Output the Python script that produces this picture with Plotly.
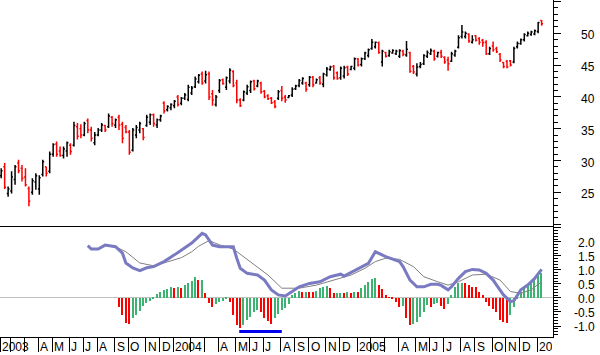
import pandas as pd
import plotly.graph_objects as go

# ---------------- weekly price bars (Jan 2003 - Jan 2006) ----------------
OPEN = [
    27.6, 29.0, 24.8, 25.2, 27.0, 29.6, 28.8, 27.4, 25.6, 25.0,
    26.6, 25.5, 27.8, 29.0, 28.3, 31.0, 32.6, 31.5, 30.8, 31.5,
    32.4, 32.4, 35.3, 35.0, 34.0, 36.3, 34.8, 32.8, 34.0, 34.8,
    35.5, 35.3, 36.8, 35.6, 36.8, 35.7, 35.2, 34.5, 31.6, 34.0,
    34.8, 35.0, 35.5, 36.0, 37.2, 35.6, 36.4, 39.0, 38.0, 38.3,
    38.6, 40.0, 39.0, 39.8, 39.6, 40.6, 41.6, 42.4,
    43.6, 42.5, 43.6, 40.5, 38.8, 41.0, 42.7, 41.5, 42.5, 44.0,
    42.2, 39.5, 39.5, 40.6, 41.0, 42.5, 41.7, 42.2, 40.9, 40.2,
    39.8, 39.2, 39.8, 41.0, 40.0, 39.9, 40.3, 41.3, 41.8, 42.2,
    42.2, 41.9, 43.1, 42.2, 43.0, 42.0, 43.5, 44.3, 44.8, 43.8,
    43.0, 43.3, 44.7, 44.3, 44.5, 46.0, 45.1, 46.0, 46.5, 47.6,
    47.9, 48.5, 45.5, 47.0, 46.5, 46.9, 46.8, 46.4,
    47.2, 46.6, 47.0, 44.8, 43.6, 44.8, 45.2, 46.4, 46.8, 47.2,
    46.4, 47.0, 46.2, 45.8, 45.6, 46.6, 47.8, 49.5, 49.5, 49.9,
    48.6, 49.6, 49.2, 48.9, 48.6, 46.8, 48.0, 47.6, 46.7, 45.4,
    45.6, 45.7, 45.5, 47.9, 48.4, 49.0, 49.6, 49.8, 49.9, 50.3,
    52.0,
]
HIGH = [
    28.8, 29.6, 25.9, 28.3, 29.3, 30.1, 29.3, 28.8, 25.9, 27.2,
    28.0, 27.7, 30.1, 29.0, 31.4, 32.7, 33.0, 32.2, 32.2, 33.0,
    32.7, 36.1, 35.9, 35.7, 36.1, 36.6, 35.3, 34.5, 35.1, 35.9,
    35.6, 37.4, 37.0, 36.6, 37.2, 36.1, 35.6, 34.8, 35.1, 35.6,
    36.1, 35.1, 37.2, 37.4, 37.4, 36.6, 37.2, 39.3, 38.7, 39.0,
    39.5, 40.3, 40.0, 40.6, 41.9, 41.7, 43.2, 43.6,
    44.0, 44.1, 44.0, 41.1, 40.3, 42.8, 42.9, 43.2, 44.5, 44.2,
    42.7, 39.8, 41.0, 41.9, 42.6, 42.7, 42.7, 42.4, 41.1, 40.4,
    40.0, 39.5, 41.1, 41.7, 40.3, 40.3, 41.5, 41.9, 42.8, 43.1,
    42.4, 43.3, 43.3, 42.9, 43.3, 43.8, 44.7, 44.9, 45.0, 44.0,
    44.8, 44.9, 44.9, 44.9, 46.2, 46.1, 46.2, 47.1, 47.6, 49.1,
    48.7, 48.7, 47.4, 47.1, 47.4, 47.5, 47.4, 47.5,
    47.4, 48.8, 47.1, 45.0, 45.3, 45.5, 46.7, 47.3, 47.6, 47.4,
    47.1, 47.4, 46.4, 46.3, 47.1, 47.4, 49.7, 51.3, 50.3, 50.0,
    49.7, 49.7, 49.4, 49.1, 48.9, 47.9, 48.7, 47.9, 46.9, 45.5,
    45.8, 45.8, 47.9, 48.7, 49.2, 50.0, 50.3, 50.4, 50.6, 51.8,
    52.1,
]
LOW = [
    27.2, 25.5, 24.3, 24.8, 26.2, 28.0, 26.7, 25.9, 22.8, 24.6,
    25.4, 24.6, 27.5, 27.5, 28.0, 30.6, 30.6, 30.6, 30.3, 30.6,
    30.9, 32.2, 33.3, 33.5, 33.8, 34.3, 33.0, 32.4, 33.8, 34.5,
    34.5, 35.1, 35.3, 35.1, 34.8, 32.7, 34.3, 30.9, 31.4, 33.5,
    34.3, 33.2, 35.3, 35.6, 35.3, 35.1, 36.1, 37.4, 37.7, 37.9,
    38.2, 38.5, 38.7, 39.5, 39.3, 40.3, 41.4, 42.1,
    41.9, 42.1, 39.5, 38.6, 38.5, 40.6, 41.9, 41.1, 42.1, 41.5,
    39.0, 38.4, 39.3, 40.3, 40.6, 41.0, 41.5, 40.5, 39.8, 39.5,
    38.9, 38.2, 39.5, 39.3, 39.1, 39.8, 40.0, 41.1, 41.5, 41.9,
    40.8, 41.6, 41.5, 42.1, 41.9, 41.5, 43.2, 44.1, 42.7, 42.7,
    42.7, 42.9, 43.3, 44.2, 44.2, 44.8, 44.8, 45.8, 46.2, 47.4,
    47.6, 46.8, 44.8, 46.2, 46.3, 46.8, 46.6, 46.1,
    46.4, 46.3, 43.8, 43.6, 43.2, 44.5, 45.0, 46.1, 46.6, 45.7,
    46.2, 46.1, 45.2, 44.1, 45.5, 46.3, 47.6, 49.2, 49.2, 48.5,
    48.4, 48.7, 48.2, 47.9, 46.6, 46.6, 47.1, 46.9, 45.5, 44.5,
    44.5, 44.8, 45.3, 47.6, 48.2, 48.7, 49.5, 49.6, 49.7, 50.0,
    51.2,
]
CLOSE = [
    28.4, 25.8, 25.5, 27.4, 29.0, 28.4, 27.2, 26.2, 23.6, 26.8,
    27.6, 27.3, 29.8, 28.0, 31.0, 32.5, 31.0, 30.8, 31.8, 32.8,
    31.4, 35.5, 33.8, 34.0, 35.8, 34.8, 33.5, 34.0, 34.8, 35.6,
    34.8, 37.0, 35.8, 36.4, 35.6, 33.5, 34.5, 31.3, 34.8, 35.2,
    35.8, 33.6, 36.8, 37.2, 35.8, 36.4, 37.0, 37.8, 38.5, 38.8,
    39.3, 38.8, 39.8, 40.3, 41.5, 41.4, 42.8, 43.4,
    42.2, 43.5, 40.0, 39.5, 40.0, 42.6, 42.1, 43.0, 44.2, 41.8,
    39.5, 38.6, 40.8, 41.6, 42.4, 41.3, 42.5, 40.8, 40.0, 39.7,
    39.1, 38.5, 40.8, 39.8, 39.5, 40.2, 41.2, 41.7, 42.6, 42.9,
    41.2, 43.1, 41.9, 42.7, 42.2, 43.6, 44.4, 44.7, 43.0, 42.9,
    44.5, 44.6, 43.6, 44.8, 46.0, 45.0, 46.0, 46.9, 47.4, 48.6,
    48.6, 47.0, 47.2, 46.4, 47.1, 47.3, 47.2, 47.3,
    46.7, 47.5, 44.0, 43.9, 44.7, 45.1, 46.5, 47.0, 47.3, 46.0,
    47.0, 46.4, 45.5, 45.2, 46.8, 47.2, 49.3, 50.2, 50.0, 48.8,
    49.0, 48.9, 48.6, 48.5, 46.8, 47.6, 47.4, 47.1, 45.8, 44.8,
    44.7, 45.0, 47.6, 48.4, 49.0, 49.8, 50.0, 50.2, 50.4, 51.7,
    51.5,
]
FIRST_WEEK = "2003-01-17"

# ---------------- indicator panel ----------------
MACD_WEEK = [25, 26, 28, 30, 33, 35, 36, 38, 40, 42, 44, 47, 50, 52, 55, 57, 58, 59, 61, 63,
             67, 68, 69, 71, 74, 76, 78, 80, 82, 84, 86, 89, 92, 95, 98, 99, 103, 106, 108, 111,
             115, 116, 118, 120, 122, 124, 126, 127, 129, 130, 132, 134, 136, 138, 140, 142, 143,
             145, 147, 148, 150, 152, 154, 156]
MACD_VAL = [1.87, 1.75, 1.75, 1.89, 1.83, 1.60, 1.25, 1.07, 0.98, 1.08, 1.12, 1.30, 1.54, 1.71,
            1.96, 2.19, 2.31, 2.25, 1.89, 1.83, 1.83, 1.42, 1.06, 0.88, 0.82, 0.64, 0.29, 0.11,
            0.07, 0.23, 0.40, 0.52, 0.58, 0.76, 0.85, 0.78, 1.06, 1.24, 1.65, 1.48, 1.30, 1.12,
            0.64, 0.40, 0.40, 0.49, 0.49, 0.45, 0.29, 0.40, 0.70, 0.94, 1.02, 1.00, 0.88, 0.64,
            0.46, 0.11, -0.13, -0.10, 0.29, 0.46, 0.70, 1.02]
SIGNAL_WEEK = [33, 36, 40, 44, 48, 52, 55, 57, 60, 63, 67, 72, 77, 81, 86, 91, 96, 101, 105, 108,
               111, 115, 119, 122, 126, 129, 132, 136, 140, 144, 147, 150, 153, 156]
SIGNAL_VAL = [1.83, 1.65, 1.25, 1.15, 1.29, 1.44, 1.65, 1.85, 2.05, 1.90, 1.75, 1.30, 0.82, 0.35,
              0.35, 0.46, 0.64, 0.82, 1.06, 1.30, 1.42, 1.38, 1.12, 0.76, 0.58, 0.46, 0.58, 0.82,
              0.85, 0.64, 0.23, 0.17, 0.29, 0.58]
HIST_FIRST_WEEK = 34
HIST = [
    -0.31, -0.61, -0.88, -0.93, -0.73, -0.60, -0.45, -0.30, -0.18, -0.10,
    -0.04, 0.15, 0.20, 0.27, 0.33, 0.40, 0.35, 0.40, 0.37, 0.45,
    0.52, 0.62, 0.75, 0.64, 0.66, 0.17, -0.19, -0.31, -0.22, -0.15,
    -0.10, -0.04, -0.15, -0.61, -0.96, -1.06, -0.96, -0.79, -0.67, -0.51,
    -0.43, -0.51, -0.70, -0.82, -0.92, -0.73, -0.58, -0.43, -0.35, -0.23,
    0.12, 0.17, 0.25, 0.20, 0.22, 0.21, 0.20, 0.24, 0.35, 0.40,
    0.42, 0.36, 0.17, 0.18, 0.19, 0.18, 0.20, 0.17, 0.21, 0.20,
    0.35, 0.46, 0.58, 0.68, 0.71, 0.45, 0.33, 0.10, 0.03, -0.03,
    -0.15, -0.31, -0.30, -0.70, -0.96, -0.94, -0.85, -0.67, -0.49, -0.25,
    -0.31, -0.20, -0.18, -0.27, -0.38, -0.22, 0.10, 0.40, 0.52, 0.55,
    0.53, 0.46, 0.40, 0.38, 0.21, 0.10, -0.15, -0.27, -0.38, -0.51,
    -0.79, -0.87, -0.90, -0.60, -0.32, -0.05, 0.20, 0.38, 0.50, 0.58,
    0.68, 0.78, 0.88,
]
HIGHLIGHT_DATES = ["2004-05-12", "2004-08-06"]
HIGHLIGHT_LEVEL = -1.2

# ---------------- labels ----------------
PRICE_LABELS = [50, 45, 40, 35, 30, 25]
IND_LABELS = [2.0, 1.5, 1.0, 0.5, 0.0, -0.5, -1.0]
MONTH_LABELS = ["2003", "", "", "A", "M", "J", "J", "A", "S", "O", "N", "D",
                "2004", "", "", "A", "M", "J", "J", "A", "S", "O", "N", "D",
                "2005", "", "", "A", "M", "J", "J", "A", "S", "O", "N", "D",
                "2006"]

dates = pd.date_range(FIRST_WEEK, periods=len(CLOSE), freq="7D")
macd_x = [dates[i] for i in MACD_WEEK]
sig_x = [dates[i] for i in SIGNAL_WEEK]
hist_x = [dates[HIST_FIRST_WEEK + k] for k in range(len(HIST))]
hist_col = []
prev = 0.0
for v in HIST:
    hist_col.append("#3cb371" if v >= prev else "#ff0000")
    prev = v

# month separators: first weekly bar in each month
seps = []
seen = set()
for d in dates:
    key = (d.year, d.month)
    if key not in seen:
        seen.add(key)
        seps.append(d - pd.Timedelta(days=2))

FONT = "Liberation Sans, Arial, sans-serif"
XR = ["2003-01-14 14:00", "2006-02-05"]

fig = go.Figure()
fig.add_trace(go.Ohlc(
    x=dates, open=OPEN, high=HIGH, low=LOW, close=CLOSE,
    increasing=dict(line=dict(color="#000000", width=1.5)),
    decreasing=dict(line=dict(color="#ff0000", width=1.5)),
    tickwidth=0.4, xaxis="x", yaxis="y", hoverinfo="skip"))
fig.add_trace(go.Bar(
    x=hist_x, y=HIST, marker=dict(color=hist_col, line=dict(width=0)),
    width=2.9 * 86400000, xaxis="x2", yaxis="y2", hoverinfo="skip"))
fig.add_trace(go.Scatter(
    x=sig_x, y=SIGNAL_VAL, mode="lines", line=dict(color="#808080", width=1),
    xaxis="x2", yaxis="y2", hoverinfo="skip"))
fig.add_trace(go.Scatter(
    x=macd_x, y=MACD_VAL, mode="lines", line=dict(color="#7a7ac2", width=3),
    xaxis="x2", yaxis="y2", hoverinfo="skip"))
fig.add_trace(go.Scatter(
    x=HIGHLIGHT_DATES, y=[HIGHLIGHT_LEVEL, HIGHLIGHT_LEVEL], mode="lines",
    line=dict(color="#0000ee", width=3), xaxis="x2", yaxis="y2", hoverinfo="skip"))

split = (337 - 226) / 337.0

annotations = []
for v in PRICE_LABELS:
    annotations.append(dict(xref="paper", x=1, xanchor="right", xshift=44,
                            yref="y", y=v, yanchor="middle", yshift=-2,
                            text=str(v), showarrow=False,
                            font=dict(family=FONT, size=12, color="#000")))
for v in IND_LABELS:
    annotations.append(dict(xref="paper", x=1, xanchor="right", xshift=44,
                            yref="y2", y=v, yanchor="middle", yshift=-1,
                            text=f"{v:.1f}", showarrow=False,
                            font=dict(family=FONT, size=12, color="#000")))
for d, lab in zip(seps, MONTH_LABELS):
    if not lab:
        continue
    a = dict(xref="x2", x=d, xanchor="left", xshift=0,
             yref="paper", y=0, yanchor="top", yshift=-1,
             text=lab, showarrow=False, align="left",
             font=dict(family=FONT, size=12, color="#000"))
    if lab == "2006":
        a["width"] = 13
    annotations.append(a)

fig.update_layout(
    width=600, height=355,
    margin=dict(l=0, r=47, t=0, b=18),
    paper_bgcolor="white", plot_bgcolor="white",
    showlegend=False, bargap=0,
    xaxis=dict(type="date", range=XR, domain=[0, 1], anchor="y",
               showline=True, linecolor="#000", linewidth=1,
               ticks="", showticklabels=False, showgrid=False, zeroline=False,
               rangeslider=dict(visible=False), fixedrange=True),
    xaxis2=dict(type="date", range=XR, domain=[0, 1], anchor="y2", matches="x",
                showline=True, linecolor="#000", linewidth=1,
                tickmode="array", tickvals=seps, ticktext=[""] * len(seps),
                ticks="outside", ticklen=14, tickcolor="#000", tickwidth=1,
                showticklabels=False, showgrid=False, zeroline=False),
    yaxis=dict(domain=[split, 1], range=[19.70, 55.24], side="right",
               showline=True, linecolor="#000", linewidth=1,
               tickmode="linear", tick0=20, dtick=5,
               ticks="outside", ticklen=7, tickcolor="#000",
               showticklabels=False, showgrid=False, zeroline=False,
               minor=dict(ticks="outside", ticklen=4, dtick=1, tick0=20,
                          tickcolor="#000", showgrid=False)),
    yaxis2=dict(domain=[0, split], range=[-1.393, 2.571], side="right",
                showline=True, linecolor="#000", linewidth=1,
                tickmode="linear", tick0=-1.0, dtick=0.5,
                ticks="outside", ticklen=7, tickcolor="#000",
                showticklabels=False, showgrid=False,
                zeroline=True, zerolinecolor="#c0c0c0", zerolinewidth=1,
                minor=dict(ticks="outside", ticklen=4, dtick=0.1, tick0=-1.0,
                           tickcolor="#000", showgrid=False)),
    annotations=annotations,
)

fig.write_html("out.html")
